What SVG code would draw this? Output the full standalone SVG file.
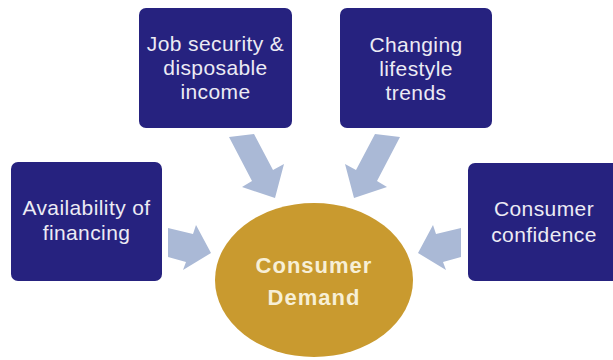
<svg xmlns="http://www.w3.org/2000/svg" width="613" height="360" viewBox="0 0 613 360">
  <style>
    .box { fill: #26227f; }
    .box-text { font-family: "Liberation Sans", Arial, sans-serif; font-size: 21px; fill: #ecebf4; text-anchor: middle; letter-spacing: 0.4px; }
    .hub { fill: #c99a2f; }
    .hub-text { font-family: "Liberation Sans", Arial, sans-serif; font-size: 22px; font-weight: bold; fill: #f7efd6; text-anchor: middle; letter-spacing: 1px; }
    .arrow { fill: #aab9d6; }
  </style>
  <rect width="613" height="360" fill="#ffffff"/>

  <!-- block arrows pointing at the central ellipse -->
  <g id="connectors">
    <polygon class="arrow" points="229,137 254,134 273,170 284,164 275,198 242,187 252,181"/>
    <polygon class="arrow" points="400,137 375,134 356,170 345,164 354,198 387,187 377,181"/>
    <polygon class="arrow" points="168,228 193,234 196,225 211,253 183,270 186,262 168,257"/>
    <polygon class="arrow" points="461,228 436,234 433,225 418,253 446,270 443,262 461,257"/>
  </g>

  <g id="node-job">
    <rect class="box" x="139" y="8" width="153" height="120" rx="7"/>
    <text class="box-text" x="215.5" y="51">Job security &amp;</text>
    <text class="box-text" x="215.5" y="75">disposable</text>
    <text class="box-text" x="215.5" y="99">income</text>
  </g>

  <g id="node-lifestyle">
    <rect class="box" x="340" y="8" width="152" height="120" rx="7"/>
    <text class="box-text" x="416" y="52">Changing</text>
    <text class="box-text" x="416" y="76">lifestyle</text>
    <text class="box-text" x="416" y="100">trends</text>
  </g>

  <g id="node-financing">
    <rect class="box" x="11" y="162" width="151" height="119" rx="7"/>
    <text class="box-text" x="86.5" y="215">Availability of</text>
    <text class="box-text" x="86.5" y="240">financing</text>
  </g>

  <g id="node-confidence">
    <rect class="box" x="468" y="163" width="152" height="118" rx="7"/>
    <text class="box-text" x="544" y="216">Consumer</text>
    <text class="box-text" x="544" y="242">confidence</text>
  </g>

  <g id="node-demand">
    <ellipse class="hub" cx="314" cy="280" rx="99" ry="77"/>
    <text class="hub-text" x="314" y="273">Consumer</text>
    <text class="hub-text" x="314" y="305">Demand</text>
  </g>
</svg>
